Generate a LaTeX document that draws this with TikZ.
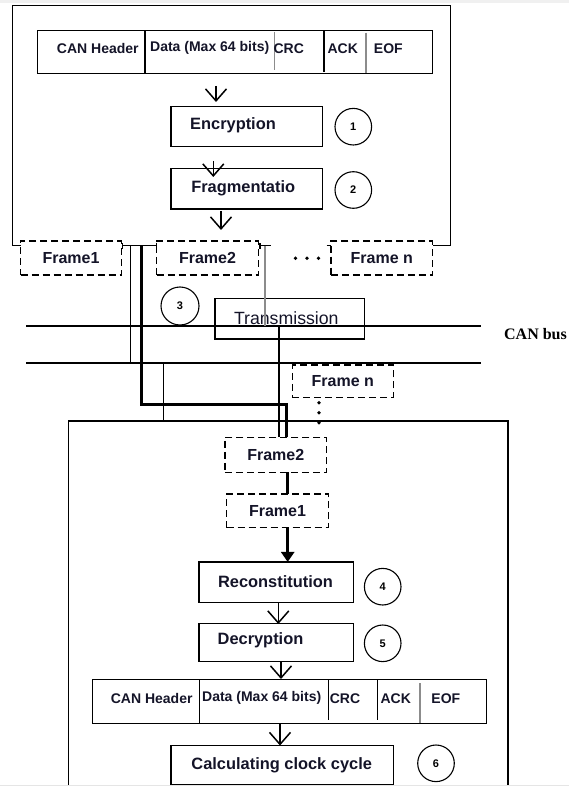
\documentclass[tikz,border=0pt]{standalone}
\usepackage{fontspec}
\setmainfont{Liberation Sans}
\newfontfamily\busfont{Liberation Serif}
\usetikzlibrary{arrows.meta,calc}
\definecolor{txt}{RGB}{20,20,40}
\definecolor{lgray}{RGB}{140,140,140}
\begin{document}
\begin{tikzpicture}[x=1pt,y=-1pt,
  every node/.style={inner sep=0pt,outer sep=0pt},
  box/.style={draw=black,line width=1.2pt},
  dbox/.style={draw=black,line width=1.2pt,dash pattern=on 7pt off 4pt,
    text=txt,font=\fontsize{16}{18}\selectfont\bfseries},
  circ/.style={draw=black,circle,line width=1.1pt,minimum size=36.6pt,
    text=black,font=\fontsize{11}{11}\selectfont\bfseries},
  lbl/.style={text=txt,font=\fontsize{16.4}{18}\selectfont\bfseries},
  tlbl/.style={text=txt,font=\fontsize{14}{16}\selectfont\bfseries},
  varrow/.style={line width=1.4pt,-{Straight Barb[length=12pt,width=21pt,line width=1.5pt]}},
  thinln/.style={line width=1.2pt},
  thickln/.style={line width=3pt},
  busln/.style={line width=2.3pt},
  grayln/.style={line width=1.3pt,draw=lgray},
  endbar/.style={line width=1.2pt,{Bar[width=6pt,line width=1.2pt]}-{Bar[width=6pt,line width=1.2pt]}}
]
\useasboundingbox (0,0) rectangle (569,786);
\fill[gray!12] (0,0) rectangle (569,3);

% ---------------- sender (top box) ----------------
\draw[box] (20.7,245.7) -- (12.7,245.7) -- (12.7,5.7) -- (450.7,5.7) -- (450.7,245.7) -- (432.7,245.7);

% CAN frame table (top)
\node[box,minimum width=395pt,minimum height=42.6pt] (tab1) at (234.8,52) {};
\draw[box] (145,30.7) -- (145,73.3);
\draw[grayln] (274.3,31.7) -- (274.3,70);
\draw[box] (324,30.7) -- (324,71.7);
\draw[grayln] (366,32.7) -- (366,73.3);
\node[tlbl] (t1a) at (97.8,48.3) {CAN Header};
\node[tlbl] (t1b) at (209.7,48.3) {Data (Max 64 bits)};
\node[tlbl] (t1c) at (288.8,48.3) {CRC};
\node[tlbl] (t1d) at (342.7,48.3) {ACK};
\node[tlbl] (t1e) at (388.3,48.3) {EOF};

\node[box,minimum width=151.3pt,minimum height=40pt] (enc) at (246.7,126.7) {};
\node[lbl] (enct) at (233,125.5) {Encryption};
\node[circ] (c1) at (353.3,126.7) {1};

\node[box,minimum width=151.3pt,minimum height=40.7pt] (frag) at (246.7,188.7) {};
\node[lbl] (fragt) at (243.2,188.5) {Fragmentatio};
\node[circ] (c2) at (353.3,190) {2};

\coordinate (a1s) at (216,86);   \coordinate (a1e) at (216,102);
\coordinate (a2s) at (213.3,161); \coordinate (a2e) at (213.3,177);
\coordinate (a3s) at (221,211);  \coordinate (a3e) at (221,230);
\draw[varrow] (a1s) -- (a1e);
\draw[varrow] (a2s) -- (a2e);
\draw[varrow] (a3s) -- (a3e);

% frames (top)
\node[dbox,minimum width=100.8pt,minimum height=34pt] (f1t) at (71,258) {Frame1};
\node[dbox,minimum width=101.6pt,minimum height=34pt] (f2t) at (207.5,258) {Frame2};
\node[dbox,minimum width=101.7pt,minimum height=34pt] (fnt) at (381.8,258) {Frame n};
\fill (295.5,258.3) circle (1.9pt) (307,258.3) circle (1.9pt) (318.5,258.3) circle (1.9pt);

\coordinate (s1) at (121.7,245.7); \coordinate (s2) at (156.7,245.7);
\draw[endbar] (s1) -- (s2);
\coordinate (s3) at (259.3,245.7); \coordinate (s4) at (270.7,245.7);
\draw[line width=1.2pt,{Bar[width=6pt,line width=1.2pt]}-] (s3) -- (s4);
\coordinate (s5) at (326.5,245.7); \coordinate (s6) at (331,245.7);
\draw[line width=1.2pt] (s5) -- (s6);

% ---------------- CAN bus ----------------
\coordinate (busAL) at (26,326);   \coordinate (busAR) at (481,326);
\coordinate (busBL) at (26,362.7); \coordinate (busBR) at (481,362.7);
\node[circ,minimum size=38pt] (c3) at (180,306) {3};
\node[box,minimum width=149.3pt,minimum height=40.7pt] (trans) at (289.7,318.7) {};
\node[text=txt,font=\fontsize{17.7}{19}\selectfont] (transt) at (286.3,318.3) {Transmission};
\draw[busln] (busAL) -- (busAR);
\draw[busln] (busBL) -- (busBR);
\node[text=black,font=\busfont\fontsize{16}{18}\selectfont\bfseries] (busl) at (535.5,334.3) {CAN bus};

% lines from sender
\coordinate (v1a) at (130.7,245.7); \coordinate (v1b) at (130.7,362.7);
\draw[thinln] (v1a) -- (v1b);
\coordinate (g1a) at (265,245.7); \coordinate (g1b) at (265,326);
\draw[grayln] (g1a) -- (g1b);

% ---------------- receiver (lower box) ----------------
\draw[box] (68.3,786) -- (68.3,421) -- (508,421) -- (508,786);
\node[dbox,minimum width=101pt,minimum height=32.3pt] (fnl) at (342.8,381.2) {Frame n};
\fill (319,402.7) circle (1.9pt) (319,412.7) circle (1.9pt) (319,422.7) circle (1.9pt);

\node[dbox,minimum width=101.7pt,minimum height=35pt] (f2l) at (275.8,454.8) {Frame2};
\node[dbox,minimum width=101.6pt,minimum height=33.7pt] (f1l) at (277.5,510.8) {Frame1};

\coordinate (tk0) at (141.7,245.7); \coordinate (tk1) at (286.7,404.5);
\draw[thickln] (tk0) |- (tk1) -- (tk1 |- f2l.north);
\coordinate (v2a) at (279,326);
\draw[thinln] (v2a) -- (v2a |- f2l.north);
\coordinate (v3a) at (163.3,362.7); \coordinate (v3b) at (163.3,421);
\draw[thinln] (v3a) -- (v3b);

\coordinate (k1) at (287.7,472.3);
\draw[thickln] (k1) -- (k1 |- f1l.north);

\node[box,minimum width=154.3pt,minimum height=40.7pt] (rec) at (276.2,582.3) {};
\node[lbl] (rect) at (275.5,581.7) {Reconstitution};
\node[circ] (c4) at (382.7,586.7) {4};
\coordinate (k2) at (287.7,527.7);
\draw[line width=2.8pt,-{Triangle[length=10pt,width=13pt]}] (k2) -- (k2 |- rec.north);

\node[box,minimum width=154.3pt,minimum height=38.4pt] (dec) at (276.2,642.5) {};
\node[lbl] (dect) at (260.5,640.5) {Decryption};
\node[circ] (c5) at (382.7,643.3) {5};

\node[box,minimum width=394.4pt,minimum height=44pt] (tab2) at (289.5,701.3) {};
\draw[box] (199.3,679.3) -- (199.3,723.3);
\draw[box] (328.3,679.3) -- (328.3,720);
\draw[box] (377.7,679.3) -- (377.7,720);
\draw[grayln] (420,683) -- (420,723.3);
\node[tlbl] (t2a) at (151.7,698.3) {CAN Header};
\node[tlbl] (t2b) at (261.7,698.3) {Data (Max 64 bits)};
\node[tlbl] (t2c) at (345,698.3) {CRC};
\node[tlbl] (t2d) at (395.8,698.3) {ACK};
\node[tlbl] (t2e) at (445.8,698.3) {EOF};

\node[box,minimum width=222.3pt,minimum height=38.8pt] (calc) at (282.2,765.1) {};
\node[lbl] (calct) at (281.7,765) {Calculating clock cycle};
\node[circ] (c6) at (436,763.3) {6};

\coordinate (a4s) at (278.3,602.7); \coordinate (a4e) at (278.3,624);
\coordinate (a5s) at (281,661.7);    \coordinate (a5e) at (281,679);
\coordinate (a6s) at (280,723.3);  \coordinate (a6e) at (280,745.5);
\draw[varrow] (a4s) -- (a4e);
\draw[varrow] (a5s) -- (a5e);
\draw[varrow] (a6s) -- (a6e);

\fill[gray!20] (0,785.2) rectangle (569,786);
\end{tikzpicture}
\end{document}
